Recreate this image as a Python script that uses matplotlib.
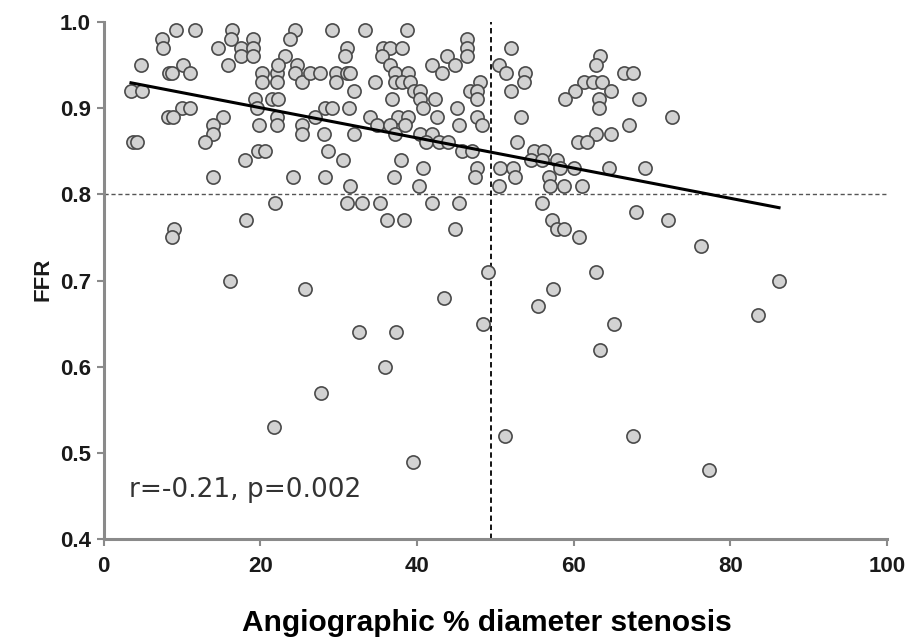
import numpy as np
import matplotlib
matplotlib.use("Agg")
import matplotlib.pyplot as plt

# angiographic % diameter stenosis
stenosis = [
    7.4, 7.6, 9.3, 11.7, 16.4, 16.3, 14.6, 17.6, 17.6, 19.1, 19.1, 19.1, 15.9, 4.8, 10.2,
    8.3, 8.7, 11.0, 3.5, 4.9, 20.2, 20.2, 22.1, 22.1, 23.2, 22.3, 24.7, 24.4, 24.4, 23.8,
    25.3, 19.3, 19.6, 21.5, 22.3, 22.1, 22.1, 10.0, 11.0, 8.2, 8.9, 15.3, 14.0, 14.0, 13.0,
    19.8, 25.3, 25.3, 3.7, 4.3, 18.1, 19.7, 20.6, 14.0, 24.2, 21.9,
    29.1, 33.4, 38.7, 31.1, 30.8, 35.7, 36.6, 38.1, 35.5, 36.6, 26.4, 27.6, 29.6, 31.1, 31.5,
    29.6, 34.7, 37.2, 38.9, 37.2, 38.1, 39.1, 31.9, 39.6, 40.4, 41.9, 43.2, 43.8, 44.9, 46.4,
    46.4, 46.4, 48.1, 46.8, 47.7, 47.7, 36.8, 40.4, 42.3, 40.8, 45.1, 28.3, 29.1, 27.0, 31.3,
    34.0, 37.6, 38.9, 42.5, 47.7, 28.1, 32.0, 34.9, 36.6, 37.2, 38.5, 40.4, 41.9, 41.1, 42.8,
    44.0, 45.3, 48.3, 45.7, 47.0, 28.7, 30.6, 37.9, 28.3, 37.0, 40.8, 47.7, 47.4, 31.5, 40.2,
    31.1, 33.0, 35.3, 41.9, 45.3, 50.4, 50.6, 50.4,
    52.0, 51.3, 53.8, 53.6, 52.0, 63.4, 62.8, 66.4, 67.5, 61.3, 62.5, 63.6, 60.2, 64.7, 58.9,
    63.2, 63.2, 68.3, 72.5, 53.3, 67.0, 62.8, 64.7, 60.6, 61.7, 52.8, 54.9, 56.2, 54.5, 56.0,
    57.9, 52.3, 52.5, 56.8, 58.3, 60.0, 57.0, 58.7, 61.1, 64.5, 69.1, 56.0, 67.9,
    18.2, 36.2, 38.3, 9.0, 8.7, 16.1, 25.7, 32.6, 37.3, 44.8, 49.1, 43.5, 48.4, 35.9, 27.8,
    57.2, 57.9, 58.7, 60.7, 72.0, 76.3, 62.9, 57.3, 55.4, 65.1, 86.2, 83.5, 63.4,
    21.7, 39.5, 51.2, 67.5, 77.3,
]
ffr = [
    0.98, 0.97, 0.99, 0.99, 0.99, 0.98, 0.97, 0.97, 0.96, 0.98, 0.97, 0.96, 0.95, 0.95, 0.95,
    0.94, 0.94, 0.94, 0.92, 0.92, 0.94, 0.93, 0.94, 0.93, 0.96, 0.95, 0.95, 0.94, 0.99, 0.98,
    0.93, 0.91, 0.90, 0.91, 0.91, 0.89, 0.88, 0.90, 0.90, 0.89, 0.89, 0.89, 0.88, 0.87, 0.86,
    0.88, 0.88, 0.87, 0.86, 0.86, 0.84, 0.85, 0.85, 0.82, 0.82, 0.79,
    0.99, 0.99, 0.99, 0.97, 0.96, 0.97, 0.97, 0.97, 0.96, 0.95, 0.94, 0.94, 0.94, 0.94, 0.94,
    0.93, 0.93, 0.94, 0.94, 0.93, 0.93, 0.93, 0.92, 0.92, 0.92, 0.95, 0.94, 0.96, 0.95, 0.98,
    0.97, 0.96, 0.93, 0.92, 0.92, 0.91, 0.91, 0.91, 0.91, 0.90, 0.90, 0.90, 0.90, 0.89, 0.90,
    0.89, 0.89, 0.89, 0.89, 0.89, 0.87, 0.87, 0.88, 0.88, 0.87, 0.88, 0.87, 0.87, 0.86, 0.86,
    0.86, 0.88, 0.88, 0.85, 0.85, 0.85, 0.84, 0.84, 0.82, 0.82, 0.83, 0.83, 0.82, 0.81, 0.81,
    0.79, 0.79, 0.79, 0.79, 0.79, 0.95, 0.83, 0.81,
    0.97, 0.94, 0.94, 0.93, 0.92, 0.96, 0.95, 0.94, 0.94, 0.93, 0.93, 0.93, 0.92, 0.92, 0.91,
    0.91, 0.90, 0.91, 0.89, 0.89, 0.88, 0.87, 0.87, 0.86, 0.86, 0.86, 0.85, 0.85, 0.84, 0.84,
    0.84, 0.83, 0.82, 0.82, 0.83, 0.83, 0.81, 0.81, 0.81, 0.83, 0.83, 0.79, 0.78,
    0.77, 0.77, 0.77, 0.76, 0.75, 0.70, 0.69, 0.64, 0.64, 0.76, 0.71, 0.68, 0.65, 0.60, 0.57,
    0.77, 0.76, 0.76, 0.75, 0.77, 0.74, 0.71, 0.69, 0.67, 0.65, 0.70, 0.66, 0.62,
    0.53, 0.49, 0.52, 0.52, 0.48,
]

# regression line and cut-offs
fit_intercept = 0.9353
fit_slope = -0.00175
ffr_cut = 0.80
stenosis_cut = 49.4
stats_text = "r=-0.21, p=0.002"

stenosis = np.array(stenosis)
ffr = np.array(ffr)

fig = plt.figure(figsize=(9.23, 6.43), dpi=100)
ax = fig.add_axes([0.1122, 0.1610, 0.8490, 0.8053])

ax.axhline(ffr_cut, color="#555555", lw=1.0, dashes=(3, 2), zorder=1)
ax.axvline(stenosis_cut, color="black", lw=1.3, dashes=(3, 2), zorder=1)

ax.scatter(stenosis, ffr, s=90, facecolor="#d2d2d2", edgecolor="#4a4a4a",
           linewidths=1.2, zorder=3, clip_on=False)

xs = np.array([stenosis.min(), stenosis.max()])
ax.plot(xs, fit_intercept + fit_slope * xs, color="black", lw=2.2, zorder=4)

ax.set_xlim(0, 100)
ax.set_ylim(0.4, 1.0)
ax.set_xticks([0, 20, 40, 60, 80, 100])
ax.set_yticks([0.4, 0.5, 0.6, 0.7, 0.8, 0.9, 1.0])
ax.set_yticklabels(["0.4", "0.5", "0.6", "0.7", "0.8", "0.9", "1.0"])

for side in ["top", "right"]:
    ax.spines[side].set_visible(False)
for side in ["left", "bottom"]:
    ax.spines[side].set_color("#8a8a8a")
    ax.spines[side].set_linewidth(2.2)

ax.tick_params(direction="out", length=5, width=1.5, color="#8a8a8a",
               labelsize=16, labelcolor="#1a1a1a")
ax.tick_params(axis="x", pad=7)
ax.tick_params(axis="y", pad=4)
for lab in ax.get_xticklabels() + ax.get_yticklabels():
    lab.set_family("Liberation Sans")
    lab.set_fontweight("bold")

ax.text(3.3, 0.457, stats_text, fontsize=19, family="DejaVu Sans",
        color="#333333", va="center", ha="left")

fig.text(0.528, 0.018, "Angiographic % diameter stenosis", fontsize=21.5,
         family="Liberation Sans", fontweight="bold", color="black",
         ha="center", va="baseline")
fig.text(0.047, 0.565, "FFR", fontsize=16, family="Liberation Sans",
         fontweight="bold", color="#1a1a1a", rotation=90, ha="center", va="center")

fig.savefig("out.png", dpi=100)
